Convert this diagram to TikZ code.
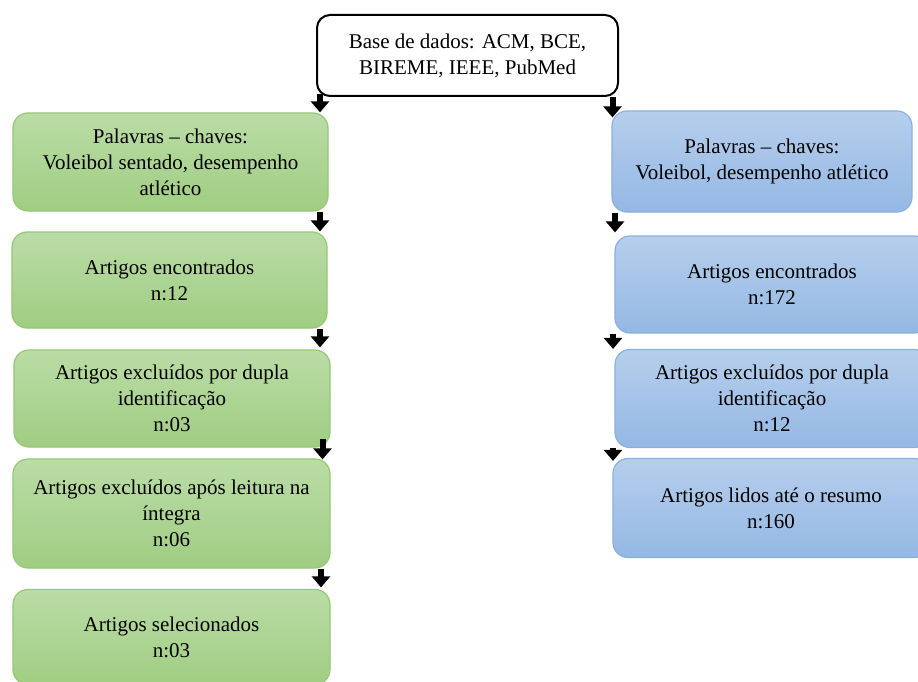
\documentclass[tikz,border=0pt]{standalone}
\usepackage{fontspec}
\setmainfont{Liberation Serif}
\usetikzlibrary{arrows.meta}
\definecolor{gtop}{RGB}{186,220,166}
\definecolor{gbot}{RGB}{160,205,130}
\definecolor{gline}{RGB}{150,199,118}
\definecolor{btop}{RGB}{182,206,236}
\definecolor{bbot}{RGB}{148,184,228}
\definecolor{bline}{RGB}{138,176,224}
\tikzset{
  txt/.style={align=center, font=\fontsize{21}{26}\selectfont, inner sep=0pt, text=black},
  gbox/.style={txt, rectangle, rounded corners=15pt, draw=gline, line width=1.2pt, top color=gtop, bottom color=gbot},
  bbox/.style={txt, rectangle, rounded corners=15pt, draw=bline, line width=1.2pt, top color=btop, bottom color=bbot},
  topbox/.style={txt, rectangle, rounded corners=13pt, draw=black, line width=2pt, fill=white},
  barrow/.style={draw=black, line width=6pt, -{Triangle[width=18pt,length=11pt]}},
}
\begin{document}
\begin{tikzpicture}[x=1pt,y=-1pt]
\clip (0,0) rectangle (918,682);
\fill[white] (0,0) rectangle (918,682);

\node[topbox, minimum width=301pt, minimum height=81pt] (T) at (467.5,55.5) {Base de dados: ACM, BCE,\\BIREME, IEEE, PubMed};

\node[gbox, minimum width=315pt, minimum height=98pt] (L1) at (170.5,162) {Palavras -- chaves:\\Voleibol sentado, desempenho\\atlético};
\node[gbox, minimum width=315pt, minimum height=96pt] (L2) at (169.5,280) {Artigos encontrados\\n:12};
\node[gbox, minimum width=316pt, minimum height=97pt] (L3) at (172,398.5) {Artigos excluídos por dupla\\identificação\\n:03};
\node[gbox, minimum width=317pt, minimum height=109pt] (L4) at (171.5,513.5) {Artigos excluídos após leitura na\\íntegra\\n:06};
\node[gbox, minimum width=317pt, minimum height=95pt] (L5) at (171.5,637) {Artigos selecionados\\n:03};

\node[bbox, minimum width=300pt, minimum height=101pt] (R1) at (762,161.5) {Palavras -- chaves:\\Voleibol, desempenho atlético};
\node[bbox, minimum width=314pt, minimum height=97pt] (R2) at (772,284.5) {Artigos encontrados\\n:172};
\node[bbox, minimum width=314pt, minimum height=98pt] (R3) at (772,398.5) {Artigos excluídos por dupla\\identificação\\n:12};
\node[bbox, minimum width=316pt, minimum height=99pt] (R4) at (771,508) {Artigos lidos até o resumo\\n:160};

\coordinate (a0) at (320,0);
\coordinate (a1) at (320,0);
\coordinate (a2) at (320,0);
\coordinate (a3) at (322.5,0);
\coordinate (a4) at (321,0);
\coordinate (b0) at (612.5,0);
\coordinate (b1) at (615,0);
\coordinate (b2) at (613,0);
\coordinate (b3) at (613,0);

\draw[barrow] ([yshift=3pt]T.south -| a0) -- (L1.north -| a0);
\draw[barrow] (L1.south -| a1) -- (L2.north -| a1);
\draw[barrow] (L2.south -| a2) -- ([yshift=2pt]L3.north -| a2);
\draw[barrow] ([yshift=9pt]L3.south -| a3) -- ([yshift=-1pt]L4.north -| a3);
\draw[barrow] (L4.south -| a4) -- ([yshift=1.5pt]L5.north -| a4);

\draw[barrow] (T.south -| b0) -- ([yshift=-7pt]R1.north -| b0);
\draw[barrow] (R1.south -| b1) -- ([yshift=3pt]R2.north -| b1);
\draw[barrow] (R2.south -| b2) -- (R3.north -| b2);
\draw[barrow] (R3.south -| b3) -- ([yshift=-3pt]R4.north -| b3);
\end{tikzpicture}
\end{document}
